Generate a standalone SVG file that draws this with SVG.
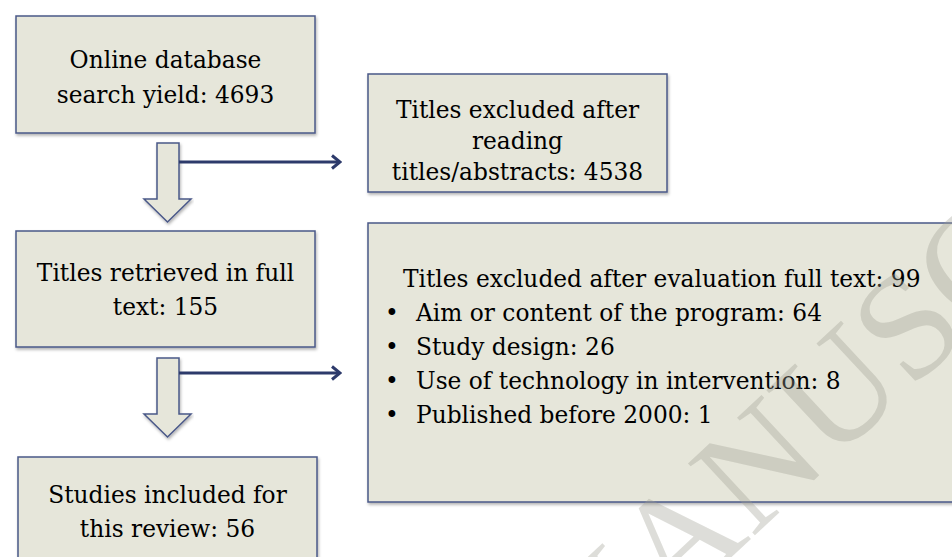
<svg xmlns="http://www.w3.org/2000/svg" width="952" height="557" viewBox="0 0 952 557">
  <defs>
    <filter id="sh" x="-5%" y="-5%" width="110%" height="115%">
      <feDropShadow dx="1" dy="2" stdDeviation="1.5" flood-color="#000" flood-opacity="0.3"/>
    </filter>
    <marker id="chev" viewBox="0 0 12 16" refX="10" refY="8" markerWidth="12" markerHeight="16" markerUnits="userSpaceOnUse" orient="auto">
      <path d="M2,1.5 L10,8 L2,14.5" fill="none" stroke="#2d3a6b" stroke-width="3" stroke-linejoin="miter"/>
    </marker>
    <style>
      .box { fill: #e6e6da; stroke: #4a5888; stroke-width: 1.5; filter: url(#sh); }
      .blk { fill: #e6e6da; stroke: #4a5888; stroke-width: 1.5; filter: url(#sh); }
      .t { font-family: "DejaVu Serif", "Liberation Serif", serif; font-size: 23.3px; fill: #000; }
      .c { text-anchor: middle; }
      .conn { fill: none; stroke: #2d3a6b; stroke-width: 3; marker-end: url(#chev); }
      .wm { font-family: "Liberation Serif", serif; font-size: 150px; fill: #a0a094; opacity: 0.35; }
    </style>
  </defs>
  <rect width="952" height="557" fill="#ffffff"/>

  <g id="node-search">
    <rect class="box" x="16" y="16" width="299" height="117"/>
    <text class="t c" x="165.5" y="68">Online database</text>
    <text class="t c" x="165.5" y="103">search yield: 4693</text>
  </g>

  <g id="node-excluded-titles">
    <rect class="box" x="368" y="74" width="299" height="118"/>
    <text class="t c" x="517.5" y="118">Titles excluded after</text>
    <text class="t c" x="517.5" y="149">reading</text>
    <text class="t c" x="517.5" y="180">titles/abstracts: 4538</text>
  </g>

  <g id="node-retrieved">
    <rect class="box" x="16" y="231" width="299" height="116"/>
    <text class="t c" x="165.5" y="281">Titles retrieved in full</text>
    <text class="t c" x="165.5" y="315">text: 155</text>
  </g>

  <g id="node-excluded-fulltext">
    <rect class="box" x="368" y="223" width="600" height="279"/>
    <text class="t" x="403" y="287">Titles excluded after evaluation full text: 99</text>
    <text class="t" x="385" y="321">•</text><text class="t" x="416" y="321">Aim or content of the program: 64</text>
    <text class="t" x="385" y="355">•</text><text class="t" x="416" y="355">Study design: 26</text>
    <text class="t" x="385" y="389">•</text><text class="t" x="416" y="389">Use of technology in intervention: 8</text>
    <text class="t" x="385" y="423">•</text><text class="t" x="416" y="423">Published before 2000: 1</text>
  </g>

  <g id="node-included">
    <rect class="box" x="18" y="457" width="299" height="120"/>
    <text class="t c" x="167.5" y="503">Studies included for</text>
    <text class="t c" x="167.5" y="537">this review: 56</text>
  </g>

  <g id="connectors">
    <path class="blk" d="M157,143 H179 V199 H191 L167.5,222 L144,199 H157 Z"/>
    <path class="blk" d="M157,358 H179 V414 H191 L167.5,437 L144,414 H157 Z"/>
    <path class="conn" d="M179,162 H340"/>
    <path class="conn" d="M179,373 H340"/>
  </g>

  <text class="wm" x="575" y="703" transform="rotate(-43 575 703)">MANUSCRIPT</text>
</svg>
